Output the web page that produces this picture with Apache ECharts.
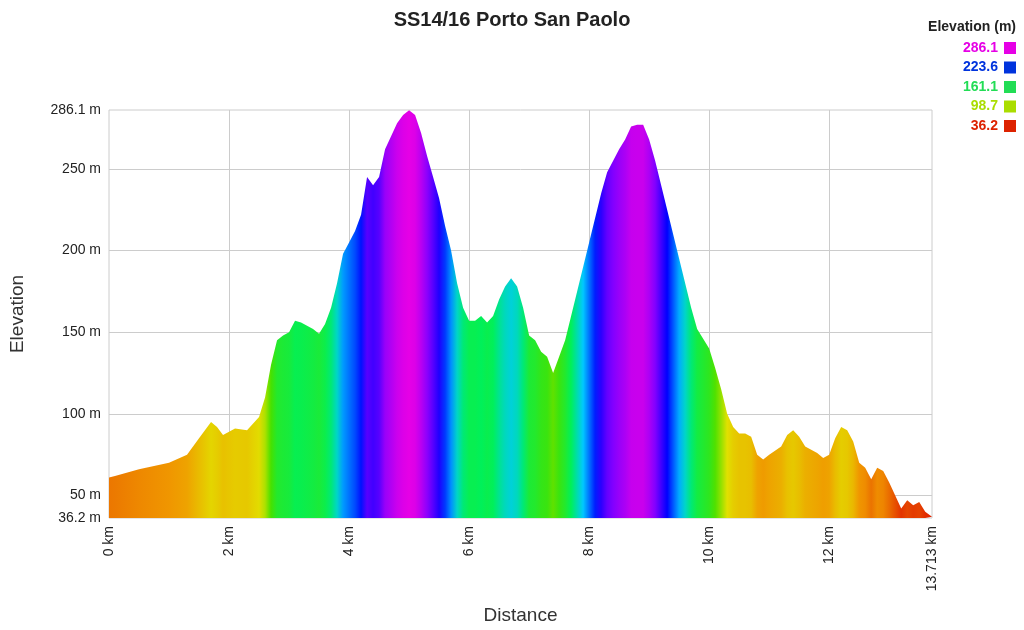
<!DOCTYPE html>
<html><head><meta charset="utf-8">
<script src="https://cdn.jsdelivr.net/npm/echarts@6/dist/echarts.min.js"></script>
<style>html,body{margin:0;padding:0;background:#fff}#c{width:1024px;height:630px}</style>
</head><body><div id="c"></div>
<script>
const distances = [0,0.1,0.5,1.0,1.3,1.5,1.7,1.8,1.9,2.0,2.1,2.3,2.5,2.6,2.7,2.8,2.9,3.0,3.1,3.2,3.4,3.5,3.6,3.7,3.8,3.9,4.0,4.1,4.2,4.3,4.4,4.5,4.6,4.7,4.8,4.9,5.0,5.1,5.2,5.3,5.4,5.5,5.6,5.7,5.8,5.9,6.0,6.1,6.2,6.3,6.4,6.5,6.6,6.7,6.8,6.9,7.0,7.1,7.2,7.3,7.4,7.5,7.6,7.7,7.8,7.9,8.0,8.1,8.2,8.3,8.4,8.5,8.6,8.7,8.8,8.9,9.0,9.1,9.2,9.3,9.4,9.5,9.6,9.7,9.8,9.9,10.0,10.1,10.2,10.3,10.4,10.5,10.6,10.7,10.8,10.9,11.0,11.2,11.3,11.4,11.5,11.6,11.7,11.8,11.9,12.0,12.1,12.2,12.3,12.4,12.5,12.6,12.7,12.8,12.9,13.0,13.1,13.2,13.3,13.4,13.5,13.6,13.713];
const elevations = [61,62,66,70,75,85,95,92,87,89,91,90,98,110,130,145,148,150,157,156,152,149,155,165,180,198,205,212,222,245,240,245,262,270,278,283,286,283,272,258,245,232,215,200,180,165,157,157,160,156,160,170,178,183,178,165,148,145,138,135,125,135,145,160,175,190,205,220,235,248,255,262,268,276,277,277,268,255,240,225,210,195,180,165,152,146,140,128,115,100,92,88,88,86,75,72,75,80,87,90,86,80,78,76,73,75,85,92,90,83,70,67,60,67,65,58,50,42,47,44,46,40,37];
const yLabels = [36.2,50,100,150,200,250,286.1];
const xLabels = [0,2,4,6,8,10,12,13.713];
const legendValues = [286.1,223.6,161.1,98.7,36.2];
const legendColors = ['#e600e6','#0033dd','#22dd55','#aadd00','#dd2200'];
const colorStops = [[36.2,[224,32,0]],[70,[240,150,0]],[100,[225,225,0]],[130,[70,225,0]],[160,[0,240,90]],[190,[0,200,255]],[225,[0,0,255]],[255,[130,0,255]],[286.1,[230,0,230]]];
function colorFor(v){
  for(let i=1;i<colorStops.length;i++){
    if(v<=colorStops[i][0]){const a=colorStops[i-1],b=colorStops[i];const t=(v-a[0])/(b[0]-a[0]);
      const c=a[1].map((x,k)=>Math.round(x+(b[1][k]-x)*t));return 'rgb('+c.join(',')+')';}
  }
  return 'rgb(230,0,230)';
}
const xMax=13.713;
const stops = distances.map((d,i)=>({offset:d/xMax,color:colorFor(elevations[i])}));
const data = distances.map((d,i)=>[d,elevations[i]]);
const chart = echarts.init(document.getElementById('c'));
const fmtY = v => v+' m';
chart.setOption({
  animation:false,
  title:{text:'SS14/16 Porto San Paolo',left:'center',top:5,textStyle:{fontFamily:'Liberation Sans',fontSize:20,fontWeight:'bold',color:'#222'}},
  grid:{left:109,right:92,top:110,bottom:109,show:true,borderColor:'#ccc',borderWidth:1},
  xAxis:{type:'value',min:0,max:xMax,name:'Distance',nameLocation:'middle',nameGap:88,
    nameTextStyle:{fontFamily:'Liberation Sans',fontSize:19,color:'#333'},
    axisLine:{show:false},axisTick:{show:false},splitLine:{show:false},
    axisLabel:{customValues:xLabels,rotate:90,formatter:v=>v+' km',fontFamily:'Liberation Sans',fontSize:14,color:'#222',margin:8}},
  yAxis:{type:'value',min:36.2,max:286.1,name:'Elevation',nameLocation:'middle',nameGap:82,
    nameTextStyle:{fontFamily:'Liberation Sans',fontSize:19,color:'#333'},
    axisLine:{show:false},axisTick:{show:false},splitLine:{show:false},
    axisLabel:{customValues:yLabels,formatter:fmtY,fontFamily:'Liberation Sans',fontSize:14,color:'#222',margin:8}},
  series:[{type:'line',data:data,showSymbol:false,lineStyle:{width:0},z:10,
    areaStyle:{opacity:1,origin:'start',color:new echarts.graphic.LinearGradient(0,0,1,0,stops)}},
    {type:'line',data:[],z:1,markLine:{z:1,silent:true,symbol:'none',label:{show:false},lineStyle:{color:'#ccc',type:'solid',width:1},
      data:[...[50,100,150,200,250].map(v=>({yAxis:v})),...[2,4,6,8,10,12].map(v=>({xAxis:v}))]}}],
  graphic:[
    {type:'text',right:8,top:20,style:{text:'Elevation (m)',font:'bold 14px Liberation Sans',fill:'#222',textAlign:'right'}},
    ...legendValues.map((v,i)=>({type:'group',right:8,top:41+i*19.5,children:[
      {type:'text',x:0,y:0,style:{text:String(v),font:'bold 14px Liberation Sans',fill:legendColors[i],textAlign:'right'}},
      {type:'rect',shape:{x:6,y:1,width:12,height:12},style:{fill:legendColors[i]}}]}))
  ]
});
</script></body></html>
